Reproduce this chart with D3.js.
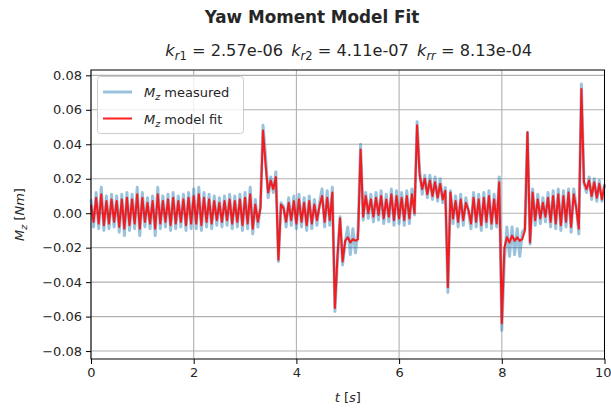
<!DOCTYPE html>
<html><head><meta charset="utf-8">
<script src="https://cdn.jsdelivr.net/npm/d3@7"></script>
<style>
body{margin:0;background:#fff;}
text{font-family:"DejaVu Sans",sans-serif;fill:#262626;}
</style></head>
<body><svg id="c" width="611" height="411"></svg>
<script>
// ---- data (values in 1e-3 N·m, sampled every 0.05 s from t = 0 to 10 s) ----
const sampleStep = 0.05;
const measuredMilli = [
 8,-8,12,-9,15,-10,10,-9,11,-8,
 10,-11,11,-13,12,-10,11,-9,15,-13,
 12,-8,9,-9,10,-13,15,-9,10,-8,
 11,-10,12,-9,10,-8,11,-10,12,-9,
 14,-9,15,-10,12,-8,11,-9,10,-7,
 9,-8,10,-7,11,-9,10,-8,11,-10,
 12,-9,15,-12,8,-8,4,51,33,9,
 21,12,24,-28,6,4,-8,9,-7,10,
 -9,11,-8,9,-10,10,-9,8,-7,6,
 14,-8,13,-7,15,-57,-27,-2,-30,-17,
 -8,-24,-9,-23,-10,40,-4,12,-3,11,
 -5,12,-4,13,-6,11,-5,14,-7,13,
 -6,12,-7,13,-6,14,-1,53,25,11,
 22,9,22,8,21,7,20,6,15,-46,
 13,-6,10,-8,11,-7,9,1,-9,12,
 -8,11,-10,12,-8,13,-9,11,-8,21,
 -68,-27,-8,-25,-8,-24,-9,-25,-11,-9,
 47,-18,14,-7,11,-6,9,-5,12,-8,
 13,-9,14,-10,13,-8,14,-11,14,4,
 -12,75,17,12,21,8,20,7,19,7,17
];
const modelMilli = [
 5,-5,9,-6,11,-7,7,-6,8,-5,
 7,-8,8,-9,9,-7,8,-6,11,-9,
 9,-5,6,-6,7,-9,11,-6,7,-5,
 8,-7,9,-6,7,-5,8,-7,9,-6,
 10,-6,11,-7,9,-5,8,-6,7,-4,
 6,-5,7,-4,8,-6,7,-5,8,-7,
 9,-6,11,-9,5,-5,3,48,28,12,
 19,14,21,-27,5,3,-5,6,-4,7,
 -6,8,-5,6,-7,7,-6,5,-4,4,
 10,-5,9,-4,12,-55,-25,-3,-28,-16,
 -14,-17,-15,-16,-15,37,-2,10,0,8,
 -2,9,-1,10,-3,8,-2,11,-4,10,
 -3,9,-4,10,-3,11,0,51,22,14,
 20,11,19,10,18,9,17,8,13,-43,
 12,-3,7,-5,8,-4,6,2,-6,9,
 -5,8,-7,9,-5,10,-6,8,-6,18,
 -64,-20,-14,-17,-13,-16,-14,-16,-15,-10,
 47,-17,12,-4,8,-3,6,-2,9,-5,
 10,-6,11,-7,10,-5,12,-8,11,3,
 -9,72,18,14,19,10,18,9,17,8,16
];
const xTicks = [0, 2, 4, 6, 8, 10];
const yTicks = [-0.08, -0.06, -0.04, -0.02, 0.00, 0.02, 0.04, 0.06, 0.08];
const xDomain = [0, 10];
const yDomain = [-0.0846, 0.0831];
const titleText = "Yaw Moment Model Fit";
const coeffNames = ["r1", "r2", "rr"];
const coeffValues = ["2.57e-06", "4.11e-07", "8.13e-04"];
const seriesNames = ["measured", "model fit"];

// ---- layout ----
const svg = d3.select("#c");
const L = 91, R = 604.5, T = 70, B = 359;
const x = d3.scaleLinear().domain(xDomain).range([L, R]);
const y = d3.scaleLinear().domain(yDomain).range([B, T]);

const toPts = arr => arr.map((v, i) => [i * sampleStep, v / 1000]);
const measured = toPts(measuredMilli);
const model = toPts(modelMilli);

// grid
const g = svg.append("g");
g.selectAll(".gx").data(xTicks).join("line")
  .attr("x1", d => x(d)).attr("x2", d => x(d)).attr("y1", T).attr("y2", B)
  .attr("stroke", "#b0b0b0").attr("stroke-width", 1.1);
g.selectAll(".gy").data(yTicks).join("line")
  .attr("x1", L).attr("x2", R).attr("y1", d => y(d)).attr("y2", d => y(d))
  .attr("stroke", "#b0b0b0").attr("stroke-width", 1.1);

// lines
const line = d3.line().x(d => x(d[0])).y(d => y(d[1]));
svg.append("path").datum(measured).attr("d", line)
  .attr("fill", "none").attr("stroke", "#1f77b4").attr("stroke-opacity", 0.45)
  .attr("stroke-width", 3).attr("stroke-linejoin", "round");
svg.append("path").datum(model).attr("d", line)
  .attr("fill", "none").attr("stroke", "#ff0000").attr("stroke-opacity", 0.85)
  .attr("stroke-width", 2.1).attr("stroke-linejoin", "round");

// frame
svg.append("rect").attr("x", L).attr("y", T).attr("width", R - L).attr("height", B - T)
  .attr("fill", "none").attr("stroke", "#000").attr("stroke-width", 1);

// axes
const xAxis = svg.append("g").attr("transform", `translate(0,${B})`)
  .call(d3.axisBottom(x).tickValues(xTicks).tickFormat(d3.format("d")).tickSize(5).tickPadding(4));
const yAxis = svg.append("g").attr("transform", `translate(${L},0)`)
  .call(d3.axisLeft(y).tickValues(yTicks).tickFormat(d => d3.format(".2f")(d).replace("-", "\u2212")).tickSize(5).tickPadding(4));
[xAxis, yAxis].forEach(a => {
  a.select(".domain").remove();
  a.selectAll("text").attr("font-size", 13).attr("font-family", "DejaVu Sans").attr("fill", "#262626");
  a.selectAll("line").attr("stroke", "#000");
});
// keep the last x tick label inside the picture
xAxis.selectAll(".tick").filter(d => d === xTicks[xTicks.length - 1]).select("text")
  .attr("text-anchor", "end").attr("x", 611 - R);

// titles
svg.append("text").attr("x", 312).attr("y", 23).attr("text-anchor", "middle")
  .attr("font-size", 16.8).attr("font-weight", "bold").attr("fill", "#000").text(titleText);

const sub = svg.append("text").attr("x", (L + R) / 2 + 1).attr("y", 56).attr("text-anchor", "middle")
  .attr("font-size", 16.2);
coeffNames.forEach((n, i) => {
  sub.append("tspan").attr("font-style", "italic").text((i > 0 ? "\u2002" : "") + "k");
  sub.append("tspan").attr("font-size", 11.5).attr("dy", 3.5).attr("font-style", "italic").text(n.replace(/\d/, ""));
  if (/\d/.test(n)) sub.append("tspan").attr("font-size", 11.5).text(n.replace(/\D/g, ""));
  sub.append("tspan").attr("dy", -3.5).text(" = " + coeffValues[i]);
});

// axis labels
const xl = svg.append("text").attr("x", (L + R) / 2).attr("y", 402).attr("text-anchor", "middle").attr("font-size", 13);
xl.append("tspan").attr("font-style", "italic").text("t");
xl.append("tspan").text(" [");
xl.append("tspan").attr("font-style", "italic").text("s");
xl.append("tspan").text("]");

const yl = svg.append("text").attr("transform", `translate(24,${(T + B) / 2}) rotate(-90)`)
  .attr("text-anchor", "middle").attr("font-size", 13);
yl.append("tspan").attr("font-style", "italic").text("M");
yl.append("tspan").attr("font-style", "italic").attr("font-size", 9.5).attr("dy", 3).text("z");
yl.append("tspan").attr("dy", -3).text(" [");
yl.append("tspan").attr("font-style", "italic").text("Nm");
yl.append("tspan").text("]");

// legend
const lg = svg.append("g");
lg.append("rect").attr("x", 97.5).attr("y", 76.5).attr("width", 146).attr("height", 57)
  .attr("rx", 3).attr("fill", "#fff").attr("fill-opacity", 0.8).attr("stroke", "#cccccc");
const legendStyles = [
  {stroke: "#1f77b4", op: 0.45, w: 3},
  {stroke: "#ff0000", op: 0.85, w: 2.1}
];
seriesNames.forEach((s, i) => {
  const yy = 92 + i * 26.5;
  lg.append("line").attr("x1", 103).attr("x2", 132).attr("y1", yy).attr("y2", yy)
    .attr("stroke", legendStyles[i].stroke).attr("stroke-opacity", legendStyles[i].op)
    .attr("stroke-width", legendStyles[i].w);
  const t = lg.append("text").attr("x", 144).attr("y", yy + 5).attr("font-size", 13);
  t.append("tspan").attr("font-style", "italic").text("M");
  t.append("tspan").attr("font-style", "italic").attr("font-size", 9.5).attr("dy", 3).text("z");
  t.append("tspan").attr("dy", -3).text(" " + s);
});
</script></body></html>
